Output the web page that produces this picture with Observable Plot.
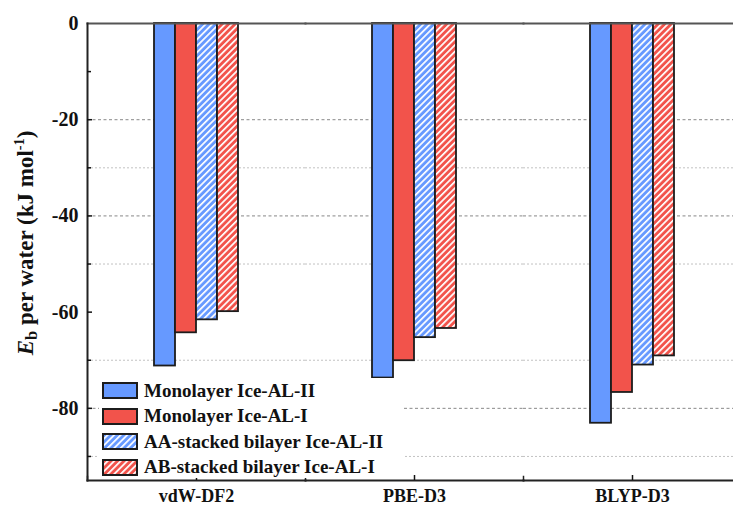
<!DOCTYPE html>
<html>
<head>
<meta charset="utf-8">
<script src="https://cdn.jsdelivr.net/npm/d3@7"></script>
<script src="https://cdn.jsdelivr.net/npm/@observablehq/plot@0.6"></script>
<style>
html, body { margin: 0; padding: 0; overflow: hidden; background: #fff; width: 733px; height: 511px; }
#wrap { position: relative; width: 733px; height: 511px; overflow: hidden; }
#chart { position: absolute; left: 0; top: 0; width: 760px; }
#chart svg { max-width: none !important; }
.ytitle { position: absolute; left: 26px; top: 243px; transform: translate(-50%, -50%) rotate(-90deg);
  white-space: nowrap; font: bold 23px "Liberation Serif", "Times New Roman", serif; color: #111; }
.ytitle i { font-style: italic; }
.ytitle sub { font-size: 0.72em; vertical-align: -0.25em; line-height: 0; }
.ytitle sup { font-size: 0.62em; vertical-align: 0.6em; line-height: 0; }
.legend { position: absolute; left: 99px; top: 378px; width: 305px; height: 100px; background: #fff; padding-top: 4px; box-sizing: border-box; }
.legend .row { display: flex; align-items: center; height: 17px; margin-bottom: 8.5px; margin-left: 3px; }
.legend .sw { width: 36px; height: 17px; display: block; }
.legend .lab { margin-left: 6px; font: bold 19px "Liberation Serif", "Times New Roman", serif; color: #111; white-space: nowrap; }
</style>
</head>
<body>
<svg width="0" height="0" style="position:absolute">
  <defs>
    <pattern id="hatchBlue" patternUnits="userSpaceOnUse" width="4.6" height="4.6" patternTransform="rotate(45)">
      <rect width="4.6" height="4.6" fill="#6699FF"></rect>
      <rect width="1.7" height="4.6" fill="#ffffff"></rect>
    </pattern>
    <pattern id="hatchRed" patternUnits="userSpaceOnUse" width="4.6" height="4.6" patternTransform="rotate(45)">
      <rect width="4.6" height="4.6" fill="#F2534B"></rect>
      <rect width="1.7" height="4.6" fill="#ffffff"></rect>
    </pattern>
  </defs>
</svg>
<div id="wrap">
  <div id="chart"></div>
  <div class="ytitle"><i>E</i><sub>b</sub> per water (kJ mol<sup>-1</sup>)</div>
  <div class="legend" id="legend"></div>
</div>
<script>
const categories = ["vdW-DF2", "PBE-D3", "BLYP-D3"];
const series = ["Monolayer Ice-AL-II", "Monolayer Ice-AL-I", "AA-stacked bilayer Ice-AL-II", "AB-stacked bilayer Ice-AL-I"];
const vdwDF2 = [-71.2, -64.3, -61.6, -59.9];
const pbeD3 = [-73.7, -70.1, -65.3, -63.4];
const blypD3 = [-83.1, -76.7, -71.0, -69.1];
const yTickLabels = [0, -20, -40, -60, -80];
const yMajorTicks = [-20, -40, -60, -80];
const yMinorTicks = [-10, -30, -50, -70, -90];
const majorGrid = [-20, -40, -80];
const minorGrid = [-30, -50, -70, -90];

const fills = ["#6699FF", "#F2534B", "url(#hatchBlue)", "url(#hatchRed)"];

const rows = [vdwDF2, pbeD3, blypD3];
const data = categories.flatMap((c, i) => series.map((s, j) => ({cat: c, series: s, value: rows[i][j]})));

const chart = Plot.plot({
  width: 760,
  height: 511,
  marginLeft: 86,
  marginRight: 19,
  marginTop: 23,
  marginBottom: 31,
  style: {fontFamily: "'Liberation Serif', 'Times New Roman', serif", fontSize: "19px", fontWeight: "bold", color: "#111", background: "transparent", maxWidth: "none"},
  facet: {data, x: "cat"},
  fx: {domain: categories, padding: 0, label: null},
  x: {domain: series, paddingInner: 0, paddingOuter: 3, axis: null},
  y: {domain: [-95, 0], label: null},
  color: {domain: series, range: fills},
  marks: [
    Plot.gridY(majorGrid, {stroke: "#888", strokeOpacity: 1, strokeDasharray: "3,2.5", strokeWidth: 1}),
    Plot.gridY(minorGrid, {stroke: "#c2c2c2", strokeOpacity: 1, strokeDasharray: "2,2", strokeWidth: 1}),
    Plot.barY(data, {x: "series", y: "value", fill: "series", stroke: "#1c1c1c", strokeWidth: 1.8}),
    Plot.frame({anchor: "top", stroke: "#555", strokeWidth: 2}),
    Plot.frame({anchor: "bottom", stroke: "#222", strokeWidth: 2}),
    Plot.frame({anchor: "left", facetAnchor: "left", stroke: "#222", strokeWidth: 2}),
    Plot.frame({anchor: "left", insetTop: 453, stroke: "#222", strokeWidth: 1.5}),
    Plot.axisY({ticks: yTickLabels, tickSize: 0, tickPadding: 9, tickFormat: d => String(d), fontSize: 20, label: null}),
    Plot.axisY({ticks: yMajorTicks, tickSize: 5, dx: 5, tickFormat: () => "", label: null, strokeWidth: 1.5}),
    Plot.axisY({ticks: yMinorTicks, tickSize: 4, dx: 4, tickFormat: () => "", label: null, strokeWidth: 1.5}),
    Plot.axisFx({anchor: "bottom", tickSize: 0, tickPadding: 9, fontSize: 18, label: null}),
    Plot.axisFx({anchor: "bottom", tickSize: 5, dy: -5, tickFormat: () => "", label: null, strokeWidth: 1.5})
  ]
});
document.getElementById("chart").appendChild(chart);

const legend = document.getElementById("legend");
series.forEach((s, i) => {
  const row = document.createElement("div");
  row.className = "row";
  row.innerHTML = `<svg class="sw" width="36" height="17"><rect x="1" y="1" width="34" height="15" fill="${fills[i]}" stroke="#1c1c1c" stroke-width="2"></rect></svg><span class="lab">${s}</span>`;
  legend.appendChild(row);
});
</script>
</body>
</html>
